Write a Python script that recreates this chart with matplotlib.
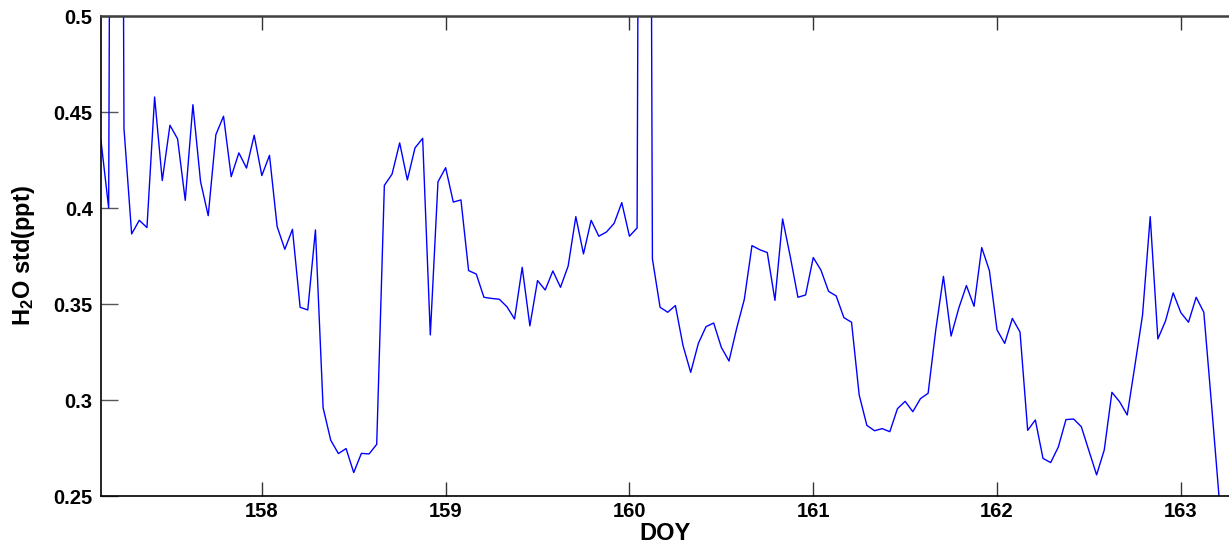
import numpy as np
import matplotlib
matplotlib.use("Agg")
import matplotlib.pyplot as plt
from matplotlib.ticker import FormatStrFormatter

plt.rcParams['font.family'] = ['Liberation Sans', 'DejaVu Sans']
plt.rcParams['mathtext.fontset'] = 'custom'
plt.rcParams['mathtext.rm'] = 'Liberation Sans:bold'
plt.rcParams['mathtext.bf'] = 'Liberation Sans:bold'
plt.rcParams['mathtext.default'] = 'bf'

# hourly series starting at DOY 157.125
doy_start = 157.125
step = 1.0 / 24
h2o_std = [
    0.435, 0.400, 1.500, 0.4415, 0.3865, 0.3936, 0.3898, 0.4578, 0.4143, 0.4431,
    0.4360, 0.4040, 0.4538, 0.4137, 0.3960, 0.4382, 0.4478, 0.4163, 0.4287, 0.4208,
    0.4379, 0.4169, 0.4274, 0.3903, 0.3785, 0.3889, 0.3483, 0.3469, 0.3886, 0.2960,
    0.2790, 0.2721, 0.2747, 0.2622, 0.2722, 0.2719, 0.2769, 0.4118, 0.4176, 0.4339,
    0.4146, 0.4313, 0.4363, 0.3339, 0.4136, 0.4210, 0.4031, 0.4042, 0.3674, 0.3656,
    0.3535, 0.3529, 0.3525, 0.3486, 0.3422, 0.3691, 0.3386, 0.3622, 0.3573, 0.3672,
    0.3587, 0.3698, 0.3955, 0.3761, 0.3936, 0.3853, 0.3875, 0.3920, 0.4028, 0.3853,
    0.3896, 1.500, 0.3735, 0.3483, 0.3457, 0.3492, 0.3283, 0.3144, 0.3295, 0.3382,
    0.3401, 0.3274, 0.3203, 0.3373, 0.3524, 0.3804, 0.3783, 0.3768, 0.3519, 0.3943,
    0.3747, 0.3535, 0.3547, 0.3742, 0.3677, 0.3566, 0.3542, 0.3429, 0.3405, 0.3026,
    0.2868, 0.2840, 0.2851, 0.2835, 0.2955, 0.2993, 0.2939, 0.3007, 0.3035, 0.3365,
    0.3644, 0.3333, 0.3478, 0.3596, 0.3488, 0.3794, 0.3674, 0.3365, 0.3295, 0.3425,
    0.3354, 0.2842, 0.2896, 0.2696, 0.2674, 0.2755, 0.2898, 0.2901, 0.2861, 0.2736,
    0.2610, 0.2740, 0.3040, 0.2991, 0.2922, 0.3179, 0.3443, 0.3955, 0.3318, 0.3412,
    0.3558, 0.3455, 0.3405, 0.3535, 0.3457, 0.2980, 0.2490,
]
doy = doy_start + step * np.arange(len(h2o_std))

x_ticks = [158, 159, 160, 161, 162, 163]
y_ticks = [0.25, 0.3, 0.35, 0.4, 0.45, 0.5]

fig = plt.figure(figsize=(12.29, 5.47), dpi=100)
ax = fig.add_axes([101 / 1229, 51 / 547, 1128 / 1229, 480 / 547])
ax.plot(doy, h2o_std, color='#0000ff', lw=1.0)

ax.set_xlim(157.125, 163.262)
ax.set_ylim(0.25, 0.5)
ax.set_xticks(x_ticks)
ax.set_yticks(y_ticks)
ax.yaxis.set_major_formatter(FormatStrFormatter('%g'))

ax.tick_params(axis='x', direction='in', top=True, bottom=True, length=10,
               width=1.0, color='#333333', labelsize=14.5, pad=4)
ax.tick_params(axis='y', direction='in', left=True, right=False, length=12,
               width=1.0, color='#555555', labelsize=14.5, pad=6)
for lab in ax.get_xticklabels() + ax.get_yticklabels():
    lab.set_fontweight('bold')

for side in ['left', 'bottom']:
    ax.spines[side].set_color('black')
    ax.spines[side].set_linewidth(1.2)
ax.spines['top'].set_color('#404040')
ax.spines['top'].set_linewidth(1.8)
ax.spines['right'].set_visible(False)

ax.set_xlabel('DOY', fontsize=17, fontweight='bold', labelpad=1)
ax.set_ylabel('H$_2$O std(ppt)', fontsize=17, fontweight='bold', labelpad=12)

fig.savefig('out.png', dpi=100)
